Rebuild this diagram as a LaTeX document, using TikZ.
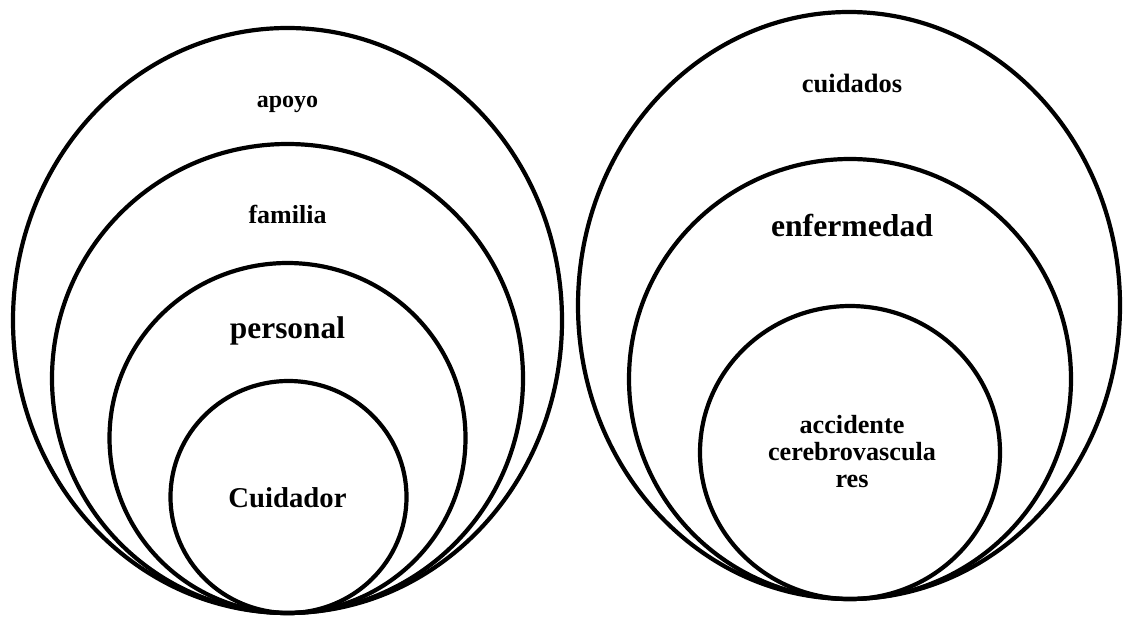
\documentclass[tikz,border=0pt]{standalone}
\usepackage{fontspec}
\setmainfont{Liberation Serif}
\usetikzlibrary{shapes.geometric}
\tikzset{
  ring/.style={draw=black, line width=4.2pt},
  lbl/.style={anchor=base, inner sep=0pt, font=\bfseries, text=black},
}
\newcommand{\fs}[1]{\fontsize{#1}{#1}\selectfont\bfseries}
\begin{document}
\begin{tikzpicture}[x=1pt, y=-1pt]
\useasboundingbox (0,0) rectangle (1126,619);
% left group
\draw[ring] (287.5,320.5) ellipse [x radius=274.5pt, y radius=292.5pt];
\draw[ring] (287.5,378.5) ellipse [x radius=235.5pt, y radius=234.5pt];
\draw[ring] (287.5,438) ellipse [x radius=178pt, y radius=175pt];
\draw[ring] (288.5,497) ellipse [x radius=118pt, y radius=116pt];
% right group
\draw[ring] (849,305.5) ellipse [x radius=271pt, y radius=293.5pt];
\draw[ring] (850,379) ellipse [x radius=221pt, y radius=220pt];
\draw[ring] (850,452.5) ellipse [x radius=150pt, y radius=146.5pt];
% labels
\node[lbl, font=\fs{24}] (apoyo) at (287.5,107) {apoyo};
\node[lbl, font=\fs{26}] (familia) at (287.5,223) {familia};
\node[lbl, font=\fs{31.4}] (personal) at (287.5,338) {personal};
\node[lbl, font=\fs{28.7}] (cuidador) at (287.5,507) {Cuidador};
\node[lbl, font=\fs{26.5}] (cuidados) at (852,92) {cuidados};
\node[lbl, font=\fs{31.7}] (enfermedad) at (852,236) {enfermedad};
\node[lbl, align=center, font={\fontsize{26.2}{27}\selectfont\bfseries}] (acv) at (852,487) {accidente\\cerebrovascula\\res};
\end{tikzpicture}
\end{document}
